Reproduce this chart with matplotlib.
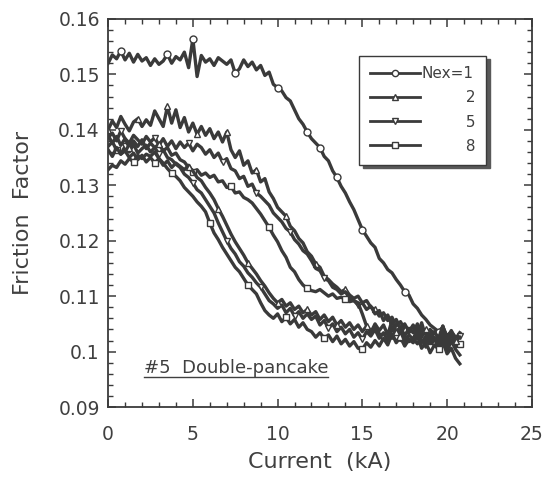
import numpy as np
import matplotlib.pyplot as plt
from matplotlib.ticker import MultipleLocator, FuncFormatter

# current sweep, 0 .. 20.75 kA
current = np.arange(0, 20.8, 0.25)

# friction factor, in units of 1e-3
nex1 = [152.0, 153.5, 152.8, 154.2, 152.6, 153.8, 152.2, 153.6, 152.4, 153.0, 151.6, 152.8,
        151.8, 152.4, 153.6, 152.0, 153.2, 152.6, 154.0, 151.2, 156.4, 149.6, 153.4, 152.2,
        152.8, 151.6, 153.0, 152.4, 151.8, 152.6, 150.2, 151.0, 152.6, 151.4, 152.2, 150.8,
        151.6, 149.8, 150.4, 148.2, 147.6, 147.0, 145.8, 145.2, 143.6, 142.0, 141.0, 139.6,
        138.4, 137.6, 136.8, 135.2, 134.4, 132.6, 131.4, 129.8, 128.6, 127.0, 125.6, 123.8,
        122.0, 120.8, 119.6, 118.8, 116.8, 116.0, 114.8, 114.2, 113.0, 112.0, 110.8, 110.2,
        108.6, 107.8, 106.6, 105.8, 104.8, 104.2, 103.6, 104.4, 102.8, 103.6, 102.6, 103.0]

nex2_a = [140.0, 141.6, 140.4, 142.4, 141.0, 139.8, 141.4, 142.0, 140.6, 141.8, 140.8, 143.4,
          142.0, 140.6, 144.2, 141.2, 143.6, 140.4, 142.2, 139.6, 141.2, 139.2, 140.6, 139.0,
          140.2, 138.4, 139.6, 137.8, 139.6, 136.4, 135.0, 136.2, 133.6, 134.4, 132.2, 132.8,
          130.6, 131.2, 128.8, 127.6, 126.0, 125.2, 124.4, 122.6, 121.8, 120.4, 119.6, 118.0,
          117.2, 115.8, 115.2, 113.6, 113.0, 112.2, 111.6, 110.8, 111.2, 110.2, 109.6, 110.0,
          108.8, 109.2, 108.0, 107.6, 106.4, 107.0, 105.6, 106.2, 104.6, 105.4, 104.0, 103.4,
          104.6, 103.0, 105.2, 102.6, 104.0, 103.2, 101.8, 104.6, 102.4, 103.8, 102.2, 103.4]

nex5_a = [138.6, 139.4, 138.0, 139.8, 138.4, 137.6, 139.0, 138.2, 137.4, 138.8, 137.8, 138.6,
          137.2, 138.4, 137.0, 138.0, 136.6, 137.8, 136.8, 137.6, 136.2, 137.4, 136.8, 135.6,
          136.4, 135.0, 135.8, 134.2, 134.8, 133.0, 132.6, 131.2, 131.6, 129.8, 130.2, 128.6,
          128.0, 127.2, 126.4, 125.0, 124.2, 123.4, 122.2, 121.6, 120.2, 119.4, 118.2, 117.6,
          116.4, 115.0, 114.6, 113.2, 112.8, 111.6, 111.2, 110.4, 110.8, 109.6, 109.2, 108.4,
          108.8, 107.6, 108.2, 106.8, 107.4, 105.6, 106.6, 104.8, 105.8, 104.2, 105.0, 103.6,
          104.8, 103.0, 104.2, 101.6, 103.4, 102.4, 100.8, 102.6, 101.2, 103.0, 101.6, 102.8]

nex8_a = [137.0, 137.8, 136.4, 135.6, 136.2, 135.0, 135.8, 134.6, 135.4, 134.2, 135.0, 134.0,
          134.8, 133.6, 134.4, 133.2, 134.0, 133.4, 132.8, 133.6, 132.4, 132.8, 131.8, 132.2,
          131.4, 131.8, 130.6, 130.8, 129.6, 129.8, 128.6, 128.8, 127.8, 127.4, 126.8, 125.8,
          124.8, 123.6, 122.4, 121.0, 119.8, 118.2, 117.0, 115.2, 114.4, 113.0, 112.0, 111.4,
          111.0, 110.8, 111.2, 110.6, 110.0, 110.4, 109.6, 109.8, 109.4, 109.0, 109.2, 108.8,
          106.8, 104.6, 103.8, 104.4, 103.2, 102.8, 103.6, 102.4, 103.0, 102.0, 102.8, 101.8,
          102.4, 101.4, 102.6, 100.8, 101.8, 102.6, 100.6, 101.6, 100.2, 101.8, 100.8, 101.4]

nex8_b = [132.8, 133.6, 133.2, 134.4, 133.8, 134.8, 134.2, 135.4, 134.8, 135.6, 135.2, 136.0,
          134.8, 134.0, 133.0, 132.2, 131.6, 130.8, 129.6, 128.8, 128.0, 127.0, 126.2, 125.2,
          123.2, 121.4, 120.2, 118.8, 117.6, 116.4, 115.2, 114.4, 113.2, 112.0, 111.2, 110.4,
          108.8, 107.4, 106.6, 106.0, 106.8, 105.4, 106.2, 105.0, 105.8, 104.4, 105.2, 104.0,
          103.6, 102.6, 103.4, 102.4, 103.0, 101.8, 102.8, 101.4, 102.2, 101.0, 101.8, 100.6,
          100.4, 101.6, 100.8, 102.0, 101.0, 102.4, 101.2, 103.2, 101.6, 102.6, 101.0, 102.2,
          101.6, 102.8, 100.6, 101.8, 99.8, 101.2, 100.4, 101.8, 99.6, 100.6, 98.8, 97.8]

nex5_b = [136.4, 135.2, 136.8, 135.6, 137.0, 136.0, 137.4, 135.8, 136.6, 137.2, 136.0, 136.8,
          135.6, 136.4, 135.0, 134.6, 133.8, 133.2, 132.0, 131.4, 130.4, 129.2, 128.6, 127.4,
          126.2, 125.0, 123.2, 121.6, 120.0, 118.6, 117.6, 116.2, 115.4, 114.2, 113.4, 112.4,
          111.6, 110.4, 109.2, 108.6, 107.8, 108.4, 107.0, 107.8, 106.4, 107.2, 106.0, 106.8,
          105.8, 106.4, 104.8, 105.6, 104.2, 105.0, 103.6, 104.4, 103.2, 104.0, 102.6, 103.4,
          102.2, 103.6, 102.8, 104.0, 102.4, 103.4, 102.0, 104.4, 102.6, 103.8, 101.8, 103.0,
          102.2, 104.2, 101.6, 102.8, 100.8, 102.4, 101.4, 103.2, 100.6, 102.0, 100.4, 99.4]

nex2_b = [139.0, 137.6, 138.8, 137.2, 138.4, 136.8, 138.0, 137.0, 138.2, 136.6, 137.6, 136.8,
          137.4, 136.2, 136.8, 135.4, 135.8, 134.6, 134.2, 133.2, 132.6, 131.4, 130.8, 129.6,
          128.6, 127.4, 125.8, 124.4, 122.8, 121.2, 119.8, 118.6, 117.4, 116.0, 115.0, 114.0,
          112.8, 111.8, 110.6, 109.6, 108.8, 109.4, 108.2, 108.8, 107.6, 108.2, 107.0, 107.6,
          106.6, 107.2, 105.8, 106.6, 105.4, 106.2, 104.8, 105.6, 104.4, 105.2, 104.0, 104.8,
          103.6, 104.6, 103.4, 105.0, 103.8, 104.8, 103.0, 105.6, 103.6, 104.4, 102.8, 104.2,
          103.4, 105.0, 102.6, 104.0, 102.2, 103.6, 102.4, 104.6, 101.8, 103.2, 102.0, 102.6]

INK = '#3a3a3a'
TXT = '#404040'

fig = plt.figure(figsize=(5.46, 4.84), dpi=100)
ax = fig.add_axes([0.198, 0.159, 0.776, 0.802])

mk = dict(color=INK, lw=2.4, mfc='white', mec=INK, mew=1.0, ms=5)

ax.plot(current, np.array(nex1) / 1000, marker='o', label='Nex=1',
        markevery=[3, 14, 20, 30, 40, 47, 50, 54, 60, 70, 78], **mk)
ax.plot(current, np.array(nex2_a) / 1000, marker='^', label='\u2007\u2007\u2007\u2007 2',
        markevery=(0, 7), **mk)
ax.plot(current, np.array(nex5_a) / 1000, marker='v', label='\u2007\u2007\u2007\u2007 5',
        markevery=(3, 8), **mk)
ax.plot(current, np.array(nex8_a) / 1000, marker='s', label='\u2007\u2007\u2007\u2007 8',
        markevery=(2, 9), **mk)
ax.plot(current, np.array(nex8_b) / 1000, marker='s', markevery=(6, 9), **mk)
ax.plot(current, np.array(nex5_b) / 1000, marker='v', markevery=(4, 8), **mk)
ax.plot(current, np.array(nex2_b) / 1000, marker='^', markevery=(5, 7), **mk)

ax.set_xlim(0, 25)
ax.set_ylim(0.09, 0.16)
ax.xaxis.set_major_locator(MultipleLocator(5))
ax.xaxis.set_minor_locator(MultipleLocator(1))
ax.yaxis.set_major_locator(MultipleLocator(0.01))
ax.yaxis.set_minor_locator(MultipleLocator(0.002))
ax.yaxis.set_major_formatter(FuncFormatter(lambda v, p: ('%.2f' % v).rstrip('0')))

ax.tick_params(which='both', direction='in', top=True, right=True, colors=INK,
               labelcolor=TXT, labelsize=13.5)
ax.tick_params(which='major', length=6, width=1.1)
ax.tick_params(which='minor', length=3.5, width=1.0)
ax.tick_params(axis='x', pad=13)
ax.tick_params(axis='y', pad=6)
for s in ax.spines.values():
    s.set_color(INK)
    s.set_linewidth(1.3)

ax.set_xlabel('Current  (kA)', fontsize=16, color=TXT, labelpad=6)
ax.set_ylabel('Friction  Factor', fontsize=16, color=TXT, labelpad=18)

leg = ax.legend(loc='upper right', bbox_to_anchor=(0.91, 0.925), fontsize=11,
                frameon=True, fancybox=False, framealpha=1, edgecolor=INK,
                shadow={'color': '0.35', 'alpha': 1, 'ox': 2.5, 'oy': -2.5},
                handlelength=3.3, handletextpad=0.1, labelspacing=0.6,
                borderpad=0.7, markerscale=0.9)
leg.get_frame().set_linewidth(1.0)
for line in leg.get_lines():
    line.set_linewidth(2.0)
for t in leg.get_texts():
    t.set_color(TXT)

note = ax.text(2.1, 0.0962, '#5  Double-pancake', fontsize=13, color=TXT)
fig.canvas.draw()
bb = note.get_window_extent().transformed(ax.transAxes.inverted())
ax.plot([bb.x0, bb.x1], [bb.y0 - 0.002, bb.y0 - 0.002], transform=ax.transAxes,
        color=TXT, lw=1.0)

fig.savefig('out.png', dpi=100)
